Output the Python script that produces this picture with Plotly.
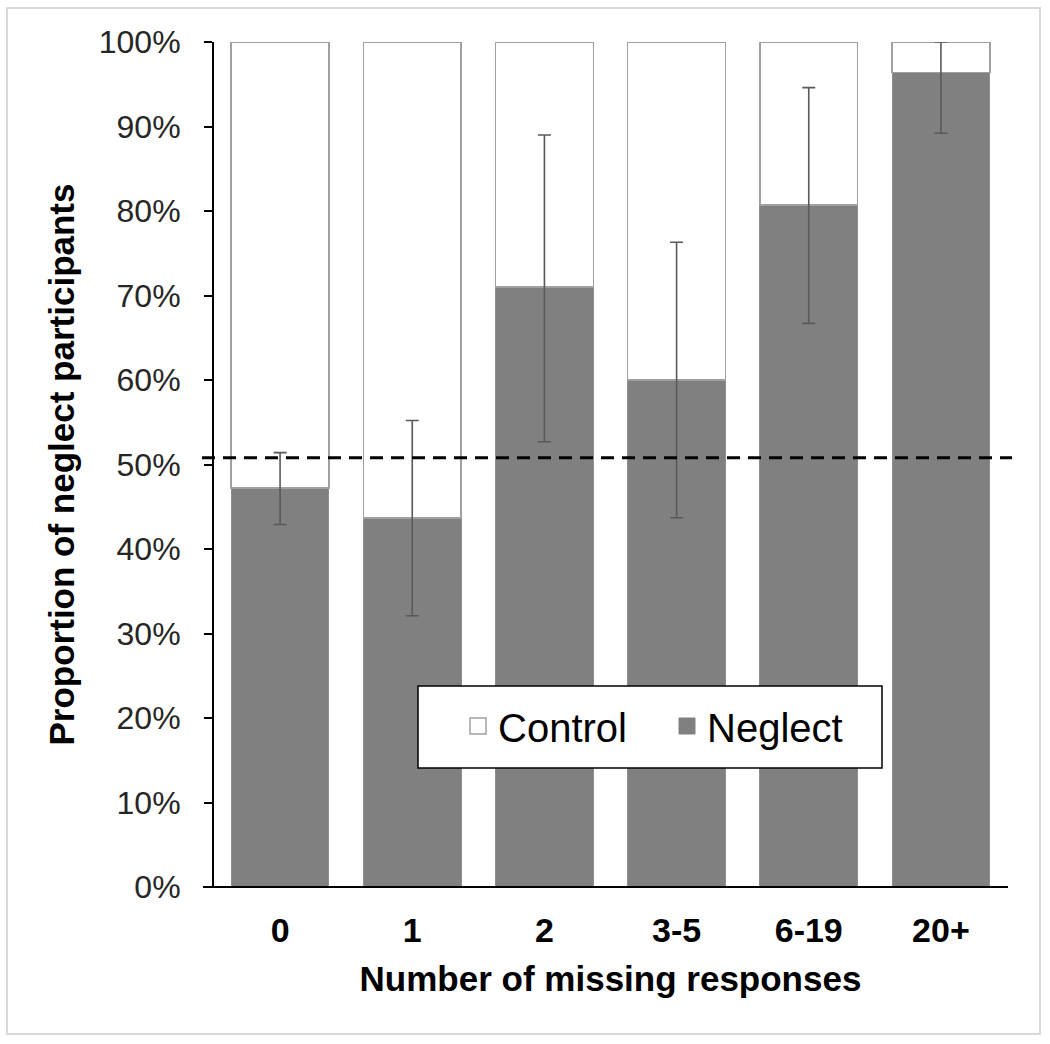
import plotly.graph_objects as go

categories = ["0", "1", "2", "3-5", "6-19", "20+"]
neglect = [0.472, 0.437, 0.710, 0.600, 0.807, 0.964]
control = [0.528, 0.563, 0.290, 0.400, 0.193, 0.036]
ci_upper = [0.514, 0.552, 0.890, 0.763, 0.946, 1.000]
ci_lower = [0.429, 0.321, 0.527, 0.437, 0.667, 0.892]
chance_level = 0.508

FONT = "Arial, Liberation Sans, sans-serif"
W, H = 1050, 1044
L, R, T, B = 214, 43, 42, 157
pw, ph = W - L - R, H - T - B


def px_x(p):
    return (p - L) / pw


def px_y(p):
    return (H - B - p) / ph


fig = go.Figure()

fig.add_trace(go.Bar(
    x=categories, y=neglect, name="Neglect", showlegend=False,
    marker=dict(color="#808080", line=dict(color="#8f8f8f", width=1)),
))
fig.add_trace(go.Bar(
    x=categories, y=control, name="Control", showlegend=False,
    marker=dict(color="#ffffff", line=dict(color="#a0a0a0", width=1.6)),
))
# error bars (drawn above both bar segments)
fig.add_trace(go.Scatter(
    x=categories, y=neglect, mode="markers", showlegend=False, hoverinfo="skip",
    marker=dict(size=1, opacity=0),
    error_y=dict(type="data", symmetric=False,
                 array=[u - v for u, v in zip(ci_upper, neglect)],
                 arrayminus=[v - l for v, l in zip(neglect, ci_lower)],
                 color="#595959", thickness=1.6, width=6.5),
))

# legend entries
fig.add_trace(go.Scatter(x=[None], y=[None], mode="markers", name="Control",
                         marker=dict(symbol="square", size=16, color="#ffffff",
                                     line=dict(color="#a0a0a0", width=1.5))))
fig.add_trace(go.Scatter(x=[None], y=[None], mode="markers", name="Neglect",
                         marker=dict(symbol="square", size=16, color="#808080",
                                     line=dict(color="#808080", width=1))))

shapes = [
    dict(type="rect", xref="paper", yref="paper",
         x0=px_x(7), x1=px_x(1040), y0=px_y(1034), y1=px_y(8),
         line=dict(color="#d9d9d9", width=2), layer="below"),
    dict(type="line", xref="paper", yref="paper",
         x0=px_x(203), x1=px_x(1008), y0=0, y1=0,
         line=dict(color="#000000", width=2)),
    dict(type="line", xref="paper", yref="y",
         x0=px_x(202), x1=px_x(1012), y0=chance_level, y1=chance_level,
         line=dict(color="#000000", width=3, dash="13px,8px")),
    dict(type="rect", xref="paper", yref="paper",
         x0=px_x(418), x1=px_x(882), y0=px_y(768), y1=px_y(686),
         line=dict(color="#000000", width=1.5), fillcolor="#ffffff"),
]

fig.update_layout(
    width=W, height=H,
    margin=dict(l=L, r=R, t=T, b=B, autoexpand=False),
    paper_bgcolor="#ffffff", plot_bgcolor="#ffffff",
    barmode="stack", bargap=0.26,
    font=dict(family=FONT, color="#000000"),
    shapes=shapes,
    showlegend=True,
    legend=dict(orientation="h", traceorder="normal",
                x=px_x(458), xanchor="left",
                y=px_y(726), yanchor="middle",
                bgcolor="rgba(0,0,0,0)", borderwidth=0,
                font=dict(family=FONT, size=40, color="#000000"),
                entrywidth=164, entrywidthmode="pixels"),
    xaxis=dict(
        range=[-0.5, 5.5], showline=False, ticks="", showgrid=False,
        tickfont=dict(family=FONT, size=34, weight="bold", color="#000000"),
        ticklabelstandoff=20,
        title=dict(text="Number of missing responses", standoff=18,
                   font=dict(family=FONT, size=35, weight="bold", color="#000000")),
    ),
    yaxis=dict(
        range=[0, 1], dtick=0.1, tickformat=".0%", showgrid=False,
        zeroline=False, showline=True, linecolor="#000000", linewidth=2,
        ticks="outside", ticklen=8, tickwidth=2, tickcolor="#000000",
        tickfont=dict(family=FONT, size=32, color="#262626"),
        ticklabelstandoff=17,
        title=dict(text="Proportion of neglect participants", standoff=14,
                   font=dict(family=FONT, size=35, weight="bold", color="#000000")),
    ),
)

fig.write_html("out.html", config={"displayModeBar": False},
               post_script="document.body.style.margin='0';")
